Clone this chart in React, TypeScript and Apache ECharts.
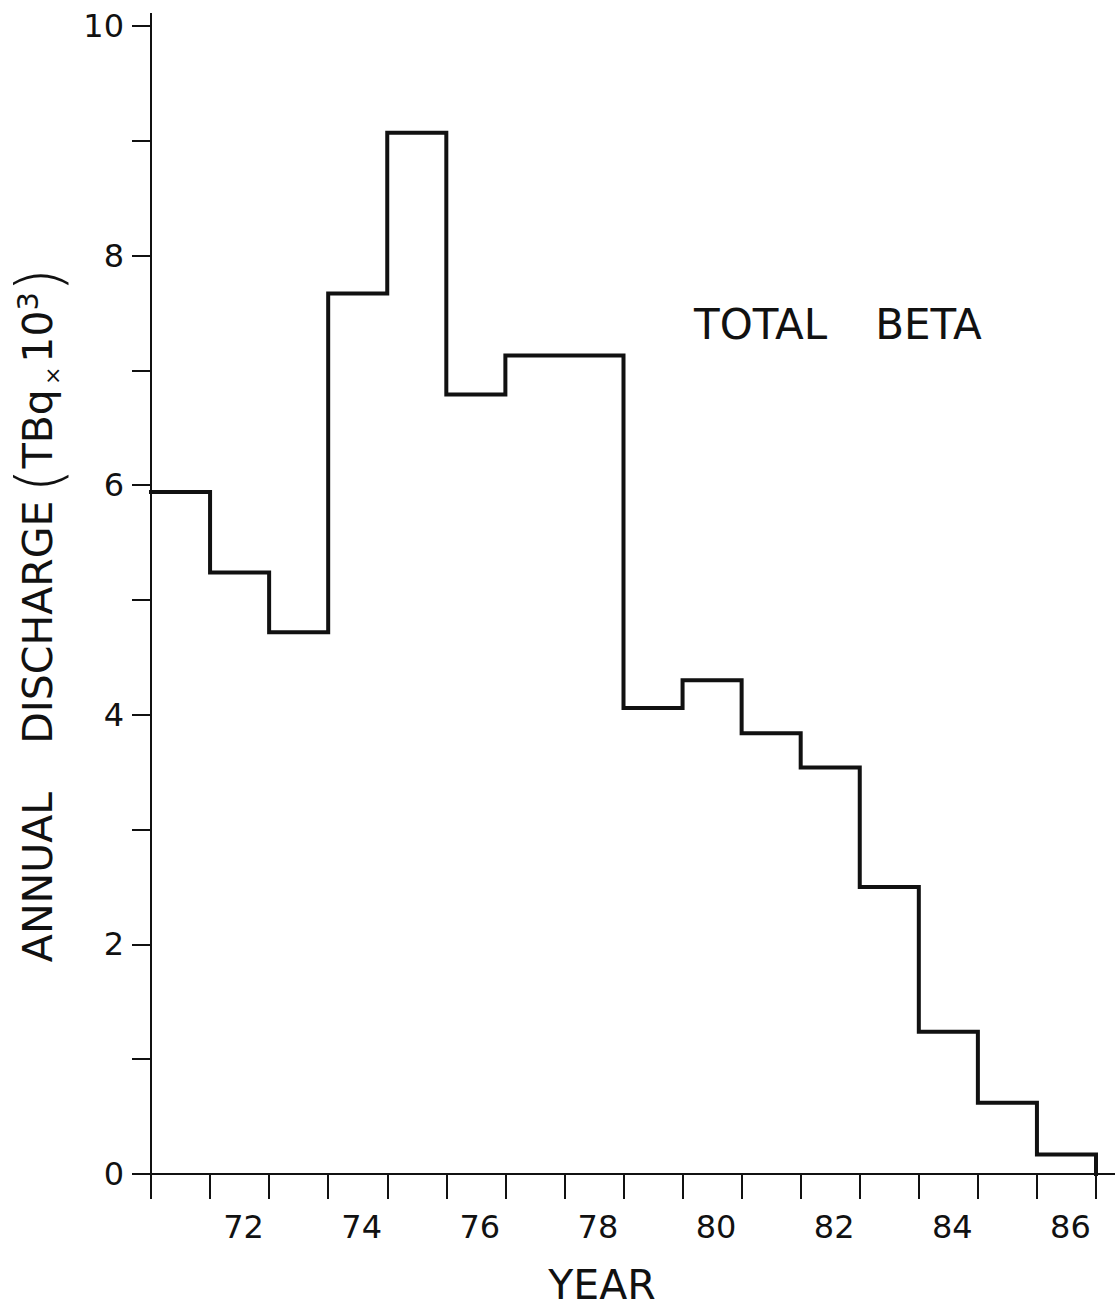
import React, { useEffect, useRef } from "react";
import * as echarts from "echarts";

// Annual total-beta discharge, one value per calendar year (19xx)
const years = [71, 72, 73, 74, 75, 76, 77, 78, 79, 80, 81, 82, 83, 84, 85, 86];
const discharge = [5.94, 5.24, 4.72, 7.67, 9.07, 6.79, 7.13, 7.13, 4.06, 4.3, 3.84, 3.54, 2.5, 1.24, 0.62, 0.17];

// Tick labels shown on each axis
const yearTickLabels = ["72", "74", "76", "78", "80", "82", "84", "86"];
const dischargeTickLabels = [0, 2, 4, 6, 8, 10];

const FONT = "DejaVu Sans";
const INK = "#111111";

export default function App() {
  const ref = useRef<HTMLDivElement>(null);

  useEffect(() => {
    if (!ref.current) return;
    const chart = echarts.init(ref.current, null, { renderer: "svg" });

    // Each year is a bin [year, year + 1); the step closes back down to the axis
    const lastYearEnd = years[years.length - 1] + 1;
    const stepPoints: number[][] = years.map((y, i) => [y, discharge[i]]);
    stepPoints.push([lastYearEnd, discharge[discharge.length - 1]]);
    stepPoints.push([lastYearEnd, 0]);

    const axisStroke = { color: INK, width: 2 };

    chart.setOption({
      animation: false,
      backgroundColor: "#ffffff",
      grid: { left: 151, right: 19, top: 26, bottom: 135, containLabel: false },
      xAxis: [
        {
          type: "value",
          min: years[0],
          max: lastYearEnd,
          interval: 1,
          axisLine: { show: true, onZero: false, lineStyle: axisStroke },
          axisTick: { show: true, length: 25, lineStyle: axisStroke },
          axisLabel: { show: false },
          splitLine: { show: false },
        },
        {
          type: "category",
          position: "bottom",
          data: years.map(String),
          boundaryGap: true,
          axisLine: { show: false },
          axisTick: { show: false },
          splitLine: { show: false },
          axisLabel: {
            interval: (_i: number, v: string) => yearTickLabels.includes(v),
            margin: 53,
            verticalAlign: "middle",
            fontFamily: FONT,
            fontSize: 32,
            color: INK,
            padding: [0, 0, 0, 8],
          },
        },
      ],
      yAxis: {
        type: "value",
        min: 0,
        max: 10,
        interval: 1,
        axisLine: { show: true, lineStyle: axisStroke },
        axisTick: { show: true, length: 19, lineStyle: axisStroke },
        splitLine: { show: false },
        axisLabel: {
          formatter: (v: number) => (dischargeTickLabels.includes(v) ? String(v) : ""),
          margin: 27,
          fontFamily: FONT,
          fontSize: 32,
          color: INK,
        },
      },
      series: [
        {
          type: "line",
          step: "end",
          xAxisIndex: 0,
          yAxisIndex: 0,
          data: stepPoints,
          symbol: "none",
          lineStyle: { color: INK, width: 4, join: "miter", cap: "square" },
        },
      ],
      graphic: [
        // short overhangs of the axis lines past the plotting area
        { type: "line", shape: { x1: 151, y1: 13, x2: 151, y2: 26 }, style: { stroke: INK, lineWidth: 2 } },
        { type: "line", shape: { x1: 1096, y1: 1174, x2: 1115, y2: 1174 }, style: { stroke: INK, lineWidth: 2 } },
        {
          type: "text",
          x: 694,
          y: 324,
          style: {
            text: "{a|TOTAL}{g| }{a|BETA}",
            align: "left",
            verticalAlign: "middle",
            fill: INK,
            rich: {
              a: { fontFamily: FONT, fontSize: 42, fill: INK },
              g: { fontFamily: FONT, fontSize: 42, width: 48 },
            },
          },
        },
        {
          type: "text",
          x: 602,
          y: 1285,
          style: {
            text: "YEAR",
            align: "center",
            verticalAlign: "middle",
            fontFamily: FONT,
            fontSize: 41,
            lineHeight: 40,
            fill: INK,
          },
        },
        {
          type: "text",
          x: 38,
          y: 615,
          rotation: Math.PI / 2,
          style: {
            text: "{t|ANNUAL}{g| }{t|DISCHARGE}{h| }{p|(}{t|TBq}{x|×}{t|10}{s|3}{p|)}",
            align: "center",
            verticalAlign: "middle",
            fill: INK,
            rich: {
              t: { fontFamily: FONT, fontSize: 41, lineHeight: 50, fill: INK },
              g: { fontFamily: FONT, fontSize: 41, lineHeight: 50, width: 48 },
              h: { fontFamily: FONT, fontSize: 41, lineHeight: 50, width: 8 },
              p: { fontFamily: FONT, fontSize: 62, lineHeight: 50, fontWeight: 200, fill: INK },
              x: { fontFamily: FONT, fontSize: 22, lineHeight: 22, verticalAlign: "bottom", fill: INK, padding: [0, 4, 0, 4] },
              s: { fontFamily: FONT, fontSize: 29, lineHeight: 29, verticalAlign: "top", fill: INK },
            },
          },
        },
      ],
    });

    return () => chart.dispose();
  }, []);

  return (
    <div
      ref={ref}
      style={{ position: "absolute", left: 0, top: 0, width: 1115, height: 1309 }}
    />
  );
}
